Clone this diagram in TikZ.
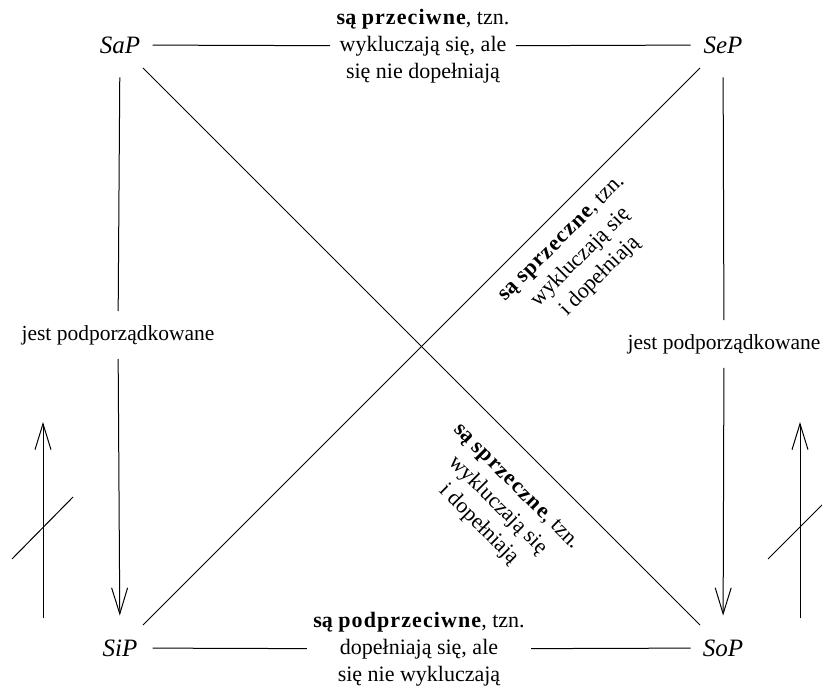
\documentclass[tikz,border=0pt]{standalone}
\usepackage{fontspec}
\setmainfont{Liberation Serif}
\usetikzlibrary{arrows.meta}
\newcommand\rozst[1]{{\bfseries\addfontfeature{LetterSpace=5}#1}}

\begin{document}
\begin{tikzpicture}[x=0.5pt,y=-0.5pt,line width=0.5pt,
    term/.style={circle,minimum size=32pt,inner sep=0pt,
      font=\fontsize{12.5}{15}\selectfont\itshape},
    opis/.style={align=center,inner sep=3pt,
      font=\fontsize{11}{13.5}\selectfont},
    podp/.style={inner xsep=0pt,inner ysep=6.8pt,
      font=\fontsize{10.75}{13.5}\selectfont},
    grot/.style={-{Straight Barb[length=13pt,width=8pt]}}]
  \useasboundingbox (0,0) rectangle (822,688);
  \draw
    (120,45) node[term] (SaP){SaP}
    (723,45) node[term] (SeP){SeP}
    (120,648) node[term] (SiP){SiP}
    (723,648) node[term] (SoP){SoP}
    (423,46) node[opis] (przec){\textbf{są} \rozst{przeciwne}, tzn.\\
      wykluczają się, ale\\ się nie dopełniają}
    (419,649) node[opis] (podprz){\textbf{są} \rozst{podprzeciwne}, tzn.\\
      dopełniają się, ale\\ się nie wykluczają}
    (118,335) node[podp] (podpL){jest podporządkowane}
    (724,344) node[podp] (podpR){jest podporządkowane};
  \coordinate (L0) at (43,618);
  \coordinate (L1) at (43,422);
  \coordinate (Lk0) at (12,559);
  \coordinate (Lk1) at (73,497);
  \coordinate (R0) at (800,618);
  \coordinate (R1) at (800,422);
  \coordinate (Rk0) at (768,559);
  \coordinate (Rk1) at (831,496);
  % boki kwadratu
  \draw (SaP) -- (przec) -- (SeP);
  \draw (SiP) -- (podprz) -- (SoP);
  \draw (SaP) -- (podpL);
  \draw[grot] (podpL) -- (SiP);
  \draw (SeP) -- (podpR);
  \draw[grot] (podpR) -- (SoP);
  % przekatne
  \draw (SeP) -- (SiP)
    node[pos=0.277,rotate=45,anchor=north,opis,inner ysep=7.5pt]
      {\textbf{są} \rozst{sprzeczne}, tzn.\\ wykluczają się\\ i dopełniają};
  \draw (SaP) -- (SoP)
    node[pos=0.711,rotate=-45,anchor=north,opis,inner ysep=12pt]
      {\textbf{są} \rozst{sprzeczne}, tzn.\\ wykluczają się\\ i dopełniają};
  % strzalki przekreslone
  \draw[grot] (L0) -- (L1);
  \draw (Lk0) -- (Lk1);
  \draw[grot] (R0) -- (R1);
  \draw (Rk0) -- (Rk1);
\end{tikzpicture}
\end{document}
